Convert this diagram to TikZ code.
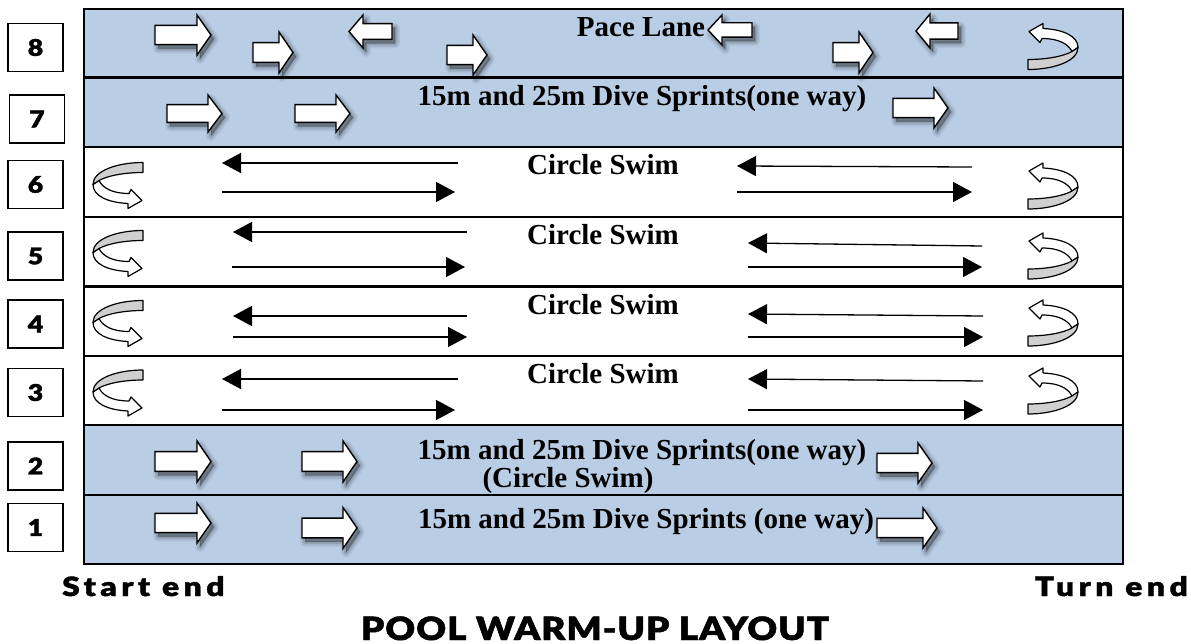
\documentclass[tikz,border=0pt]{standalone}
\usepackage{fontspec}
\setmainfont{Liberation Serif}
\IfFontExistsTF{Lato Black}{%
  \newfontfamily\blk{Lato Black}[FakeBold=1.5,FakeStretch=1.15,LetterSpace=3]%
  \newfontfamily\blkw{Lato Black}[FakeBold=1.5,FakeStretch=1.2,LetterSpace=17]}{%
  \newfontfamily\blk{DejaVu Sans Bold}[FakeBold=1.5,LetterSpace=2]%
  \newfontfamily\blkw{DejaVu Sans Bold}[FakeBold=1.5,LetterSpace=8]}
\usetikzlibrary{arrows.meta}
\definecolor{lanebg}{HTML}{B9CDE5}
\definecolor{ribbon}{HTML}{D0D0D0}
\tikzset{
  blkL/.store in=\blkL, blkH/.store in=\blkH, blkD/.store in=\blkD,
  blkL=56, blkH=40, blkD=1,
  blkpath/.style={insert path={(\mtx,-\sy) -- (\hx,-\sy) -- (\hx,-\hy) -- (\tx,0) -- (\hx,\hy) -- (\hx,\sy) -- (\mtx,\sy) -- cycle}},
  blk/.pic={
    \pgfmathsetmacro\tx{\blkD*\blkL/2}
    \pgfmathsetmacro\mtx{-\blkD*\blkL/2}
    \pgfmathsetmacro\hx{\blkD*(\blkL/2-14)}
    \pgfmathsetmacro\hy{\blkH/2}
    \pgfmathsetmacro\sy{\blkH*0.24}
    \foreach \w/\o in {10/0.05,7/0.07,4/0.09,1/0.13}{
      \path[fill=black,draw=black,line width=\w pt,opacity=\o,line join=round,shift={(3,4)}][blkpath];
    }
    \path[fill=white,draw=black,line width=1.4pt,line join=miter][blkpath];
  },
  uturn/.pic={
    \path[fill=white,draw=black,line width=1.2pt,line join=round]
      (-24,-15) -- (-10,-23) -- (-10,-18) .. controls (11,-17) and (25,-10) .. (25,1)
      -- (19,5) .. controls (15,-3) and (5,-8) .. (-11,-8) -- (-13,-4) -- cycle;
    \path[fill=ribbon,draw=black,line width=1.2pt,line join=round]
      (19,5) .. controls (10,10) and (-7,13) .. (-25,13) -- (-25,23)
      .. controls (0,23) and (25,15) .. (25,1) -- cycle;
  },
  numbox/.style={draw=black,fill=white,line width=1.4pt,minimum width=55pt,minimum height=48pt,inner sep=0pt,
    font=\blk\fontsize{23}{23}\selectfont},
  lanetxt/.style={font=\fontsize{29}{30}\selectfont\bfseries,anchor=base,inner sep=0pt},
  swim/.style={line width=1.3pt,-{Triangle[length=19pt,width=20pt]}},
  endtxt/.style={font=\blkw\fontsize{26.5}{27}\selectfont,inner sep=0pt},
}
\begin{document}
\begin{tikzpicture}[x=1pt,y=-1pt]
\useasboundingbox (0,0) rectangle (1191,644);
% lanes
\fill[lanebg] (84,9) rectangle (1123,147);
\fill[lanebg] (84,425) rectangle (1123,564);
\foreach \yy in {77.5,147,217,286.5,356,425,495}{
  \draw[line width=2.2pt] (84,\yy) -- (1123,\yy);
}
\draw[line width=2.5pt] (84,9) rectangle (1123,564);
% lane numbers
\node[numbox] (n8) at (35.5,47.5) {8};
\node[numbox] (n7) at (37,119) {7};
\node[numbox] (n6) at (35.5,184.5) {6};
\node[numbox] (n5) at (35.5,256) {5};
\node[numbox] (n4) at (35.5,324) {4};
\node[numbox] (n3) at (35.5,392.5) {3};
\node[numbox] (n2) at (35.5,466) {2};
\node[numbox] (n1) at (35.5,527.5) {1};
% lane texts
\node[lanetxt] (t8) at (641,37) {Pace Lane};
\node[lanetxt] (t7) at (642,106) {15m and 25m Dive Sprints(one way)};
\node[lanetxt] (t6) at (603,175) {Circle Swim};
\node[lanetxt] (t5) at (603,245) {Circle Swim};
\node[lanetxt] (t4) at (603,314) {Circle Swim};
\node[lanetxt] (t3) at (603,383) {Circle Swim};
\node[lanetxt] (t2a) at (642,459) {15m and 25m Dive Sprints(one way)};
\node[lanetxt] (t2b) at (568,487) {(Circle Swim)};
\node[lanetxt] (t1) at (646,528) {15m and 25m Dive Sprints (one way)};
% block arrows lane 8
\pic[blkL=56,blkH=40] (a8a) at (183,35) {blk};
\pic[blkL=40,blkH=41] (a8b) at (273,52.5) {blk};
\pic[blkL=43,blkH=33,blkD=-1] (a8c) at (370.5,31.5) {blk};
\pic[blkL=40,blkH=40] (a8d) at (467,55) {blk};
\pic[blkL=44,blkH=30,blkD=-1] (a8e) at (730,30) {blk};
\pic[blkL=40,blkH=41] (a8f) at (853,52.5) {blk};
\pic[blkL=42,blkH=34,blkD=-1] (a8g) at (937,31) {blk};
% lane 7
\pic[blkL=55,blkH=37] (a7a) at (194.5,113.5) {blk};
\pic[blkL=55,blkH=37] (a7b) at (322.5,113.5) {blk};
\pic[blkL=55,blkH=40] (a7c) at (920.5,108) {blk};
% lane 2
\pic[blkL=56,blkH=41] (a2a) at (183,461.5) {blk};
\pic[blkL=55,blkH=41] (a2b) at (329.5,461.5) {blk};
\pic[blkL=55,blkH=40] (a2c) at (904.5,463) {blk};
% lane 1
\pic[blkL=56,blkH=40] (a1a) at (183,523) {blk};
\pic[blkL=55,blkH=41] (a1b) at (329.5,528) {blk};
\pic[blkL=60,blkH=40] (a1c) at (907,528) {blk};
% u-turns
\pic (u8r) at (1053,46.5) {uturn};
\pic (u6r) at (1053,186) {uturn};
\pic (u5r) at (1053,256) {uturn};
\pic (u4r) at (1053,323) {uturn};
\pic (u3r) at (1053,391) {uturn};
\pic[rotate=180] (u6l) at (118,185.5) {uturn};
\pic[rotate=180] (u5l) at (118,253.5) {uturn};
\pic[rotate=180] (u4l) at (118,323.5) {uturn};
\pic[rotate=180] (u3l) at (118,393) {uturn};
% circle swim line arrows
\coordinate (l6a1) at (458,163); \coordinate (l6a2) at (222,163);
\coordinate (l6b1) at (222,192); \coordinate (l6b2) at (455,192);
\coordinate (r6a1) at (972,167); \coordinate (r6a2) at (737,166);
\coordinate (r6b1) at (737,192); \coordinate (r6b2) at (972,192);
\coordinate (l5a1) at (467,232); \coordinate (l5a2) at (233,232);
\coordinate (l5b1) at (232,267); \coordinate (l5b2) at (465,267);
\coordinate (r5a1) at (982,246); \coordinate (r5a2) at (748,243);
\coordinate (r5b1) at (748,267); \coordinate (r5b2) at (982,267);
\coordinate (l4a1) at (467,316); \coordinate (l4a2) at (233,316);
\coordinate (l4b1) at (233,337); \coordinate (l4b2) at (467,337);
\coordinate (r4a1) at (983,316); \coordinate (r4a2) at (748,314);
\coordinate (r4b1) at (748,337); \coordinate (r4b2) at (983,337);
\coordinate (l3a1) at (458,379); \coordinate (l3a2) at (222,379);
\coordinate (l3b1) at (222,410); \coordinate (l3b2) at (455,410);
\coordinate (r3a1) at (983,381); \coordinate (r3a2) at (748,379);
\coordinate (r3b1) at (748,410); \coordinate (r3b2) at (983,410);
\foreach \p in {l6a,l6b,r6a,r6b,l5a,l5b,r5a,r5b,l4a,l4b,r4a,r4b,l3a,l3b,r3a,r3b}{
  \draw[swim] (\p1) -- (\p2);
}
% bottom texts
\node[endtxt,anchor=base west] (start) at (62,596) {Start end};
\node[endtxt,anchor=base east] (turn) at (1188,596) {Turn end};
\node[inner sep=0pt,anchor=base,font=\blk\fontsize{32}{32}\selectfont] (title) at (595,640) {POOL WARM-UP LAYOUT};
\end{tikzpicture}
\end{document}
